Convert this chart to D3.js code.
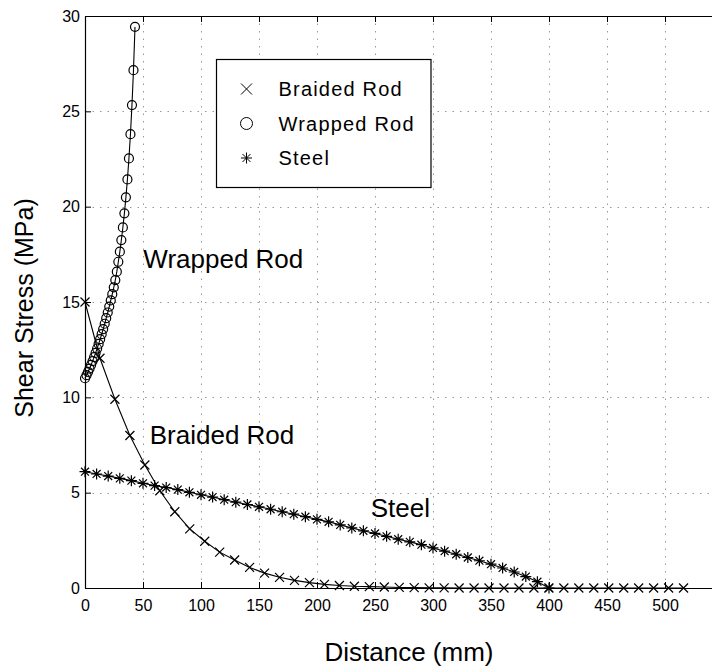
<!DOCTYPE html>
<html>
<head>
<meta charset="utf-8">
<script src="https://cdn.jsdelivr.net/npm/d3@7"></script>
<style>
    body { margin: 0; background: #fff; }
    svg { display: block; font-family: "Liberation Sans", Arial, Helvetica, sans-serif; }
</style>
</head>
<body>
<script>

// values
var braidedX = [0, 12.9, 25.8, 38.7, 51.6, 64.5, 77.4, 90.3, 103.2, 116.1, 129, 141.9, 154.8, 167.7, 180.6,
    193.5, 206.4, 219.3, 232.2, 245.1, 258, 270.9, 283.8, 296.7, 309.6, 322.5, 335.4, 348.3, 361.2, 374.1,
    387, 399.9, 412.8, 425.7, 438.6, 451.5, 464.4, 477.3, 490.2, 503.1, 516];
var braidedY = [15.0, 12.05, 9.9, 8.0, 6.45, 5.1, 4.0, 3.1, 2.45, 1.88, 1.47, 1.08, 0.78, 0.56, 0.4,
    0.28, 0.19, 0.13, 0.09, 0.07, 0.05, 0.03, 0.02, 0.01, 0.01, 0, 0, 0, 0, 0,
    0, 0, 0, 0, 0, 0, 0, 0, 0, 0, 0];

var wrappedX = [0, 1.31, 2.61, 3.92, 5.22, 6.53, 7.84, 9.14, 10.45, 11.75, 13.06, 14.37, 15.67, 16.98, 18.28,
    19.59, 20.9, 22.2, 23.51, 24.81, 26.12, 27.43, 28.73, 30.04, 31.34, 32.65, 33.96, 35.26, 36.57, 37.87,
    39.18, 40.49, 41.79, 43.1];
var wrappedY = [11.0, 11.16, 11.33, 11.51, 11.7, 11.9, 12.11, 12.33, 12.56, 12.8, 13.05, 13.31, 13.58, 13.86, 14.15,
    14.45, 14.76, 15.08, 15.41, 15.77, 16.15, 16.59, 17.11, 17.64, 18.25, 18.91, 19.65, 20.49, 21.43, 22.53,
    23.8, 25.33, 27.16, 29.43];

var steelX = [0, 10, 20, 30, 40, 50, 60, 70, 80, 90, 100, 110, 120, 130, 140, 150, 160, 170, 180, 190,
    200, 210, 220, 230, 240, 250, 260, 270, 280, 290, 300, 310, 320, 330, 340, 350, 360, 370, 380, 390, 400];
var steelY = [6.1, 5.98, 5.87, 5.75, 5.63, 5.49, 5.37, 5.27, 5.16, 5.02, 4.89, 4.77, 4.63, 4.5, 4.38, 4.26, 4.13, 4.0, 3.87, 3.74,
    3.6, 3.47, 3.31, 3.15, 3.0, 2.86, 2.71, 2.56, 2.42, 2.27, 2.1, 1.93, 1.77, 1.6, 1.43, 1.25, 1.05, 0.84, 0.6, 0.33, 0];

var xTicks = [0, 50, 100, 150, 200, 250, 300, 350, 400, 450, 500];
var yTicks = [0, 5, 10, 15, 20, 25, 30];
var seriesNames = ["Braided Rod", "Wrapped Rod", "Steel"];

var W = 712, H = 667;
var plotLeft = 85, plotTop = 16, plotBottom = 588, plotRight = 723;

var x = d3.scaleLinear().domain([0, 550]).range([plotLeft, plotRight]);
var y = d3.scaleLinear().domain([0, 30]).range([plotBottom, plotTop]);

var svg = d3.select("body").append("svg")
    .attr("width", W)
    .attr("height", H);

// marker shapes (matlab style, stroked)
var markX = {
    draw: function (c, r) {
        c.moveTo(-r, -r); c.lineTo(r, r);
        c.moveTo(-r, r); c.lineTo(r, -r);
    }
};
var markO = {
    draw: function (c, r) {
        c.moveTo(r, 0);
        c.arc(0, 0, r, 0, 2 * Math.PI);
    }
};
var markStar = {
    draw: function (c, r) {
        var d = r * 0.72;
        c.moveTo(0, -r); c.lineTo(0, r);
        c.moveTo(-r, 0); c.lineTo(r, 0);
        c.moveTo(-d, -d); c.lineTo(d, d);
        c.moveTo(-d, d); c.lineTo(d, -d);
    }
};

// grid
var grid = svg.append("g").attr("class", "grid")
    .attr("stroke", "#999")
    .attr("stroke-width", 1)
    .attr("stroke-dasharray", "1.5,6");

grid.selectAll("line.gx")
    .data(xTicks.filter(function (d) { return d > 0; }))
    .enter().append("line")
        .attr("class", "gx")
        .attr("x1", function (d) { return Math.round(x(d)) + 0.5; })
        .attr("x2", function (d) { return Math.round(x(d)) + 0.5; })
        .attr("y1", plotTop)
        .attr("y2", plotBottom);

grid.selectAll("line.gy")
    .data(yTicks.filter(function (d) { return d > 0 && d < 30; }))
    .enter().append("line")
        .attr("class", "gy")
        .attr("x1", plotLeft)
        .attr("x2", plotRight)
        .attr("y1", function (d) { return Math.round(y(d)) + 0.5; })
        .attr("y2", function (d) { return Math.round(y(d)) + 0.5; });

// axes, ticks pointing inwards
var axisL = svg.append("g")
    .attr("transform", "translate(" + plotLeft + ",0)")
    .call(d3.axisLeft(y).tickValues(yTicks).tickSizeInner(-6).tickSizeOuter(0).tickPadding(5));

var axisB = svg.append("g")
    .attr("transform", "translate(0," + plotBottom + ")")
    .call(d3.axisBottom(x).tickValues(xTicks).tickSizeInner(-6).tickSizeOuter(0).tickPadding(12));

var axisT = svg.append("g")
    .attr("transform", "translate(0," + plotTop + ")")
    .call(d3.axisTop(x).tickValues(xTicks).tickSizeInner(-6).tickSizeOuter(0).tickFormat(""));

[axisL, axisB, axisT].forEach(function (a) {
    a.selectAll("path.domain").attr("stroke", "#000").attr("stroke-width", 1.2);
    a.selectAll(".tick line").attr("stroke", "#000");
    a.selectAll("text")
        .attr("fill", "#000")
        .style("font-size", "16px")
        .style("font-family", "'Liberation Sans', Arial, sans-serif");
});

// series
var series = [
    { name: seriesNames[0], xs: braidedX, ys: braidedY, mark: markX, size: 4.5 },
    { name: seriesNames[1], xs: wrappedX, ys: wrappedY, mark: markO, size: 4.5 },
    { name: seriesNames[2], xs: steelX, ys: steelY, mark: markStar, size: 5.5 }
];

var line = d3.line()
    .x(function (d) { return x(d[0]); })
    .y(function (d) { return y(d[1]); });

series.forEach(function (s) {

    var pts = d3.zip(s.xs, s.ys);

    var g = svg.append("g").attr("class", "series");

    g.append("path")
        .datum(pts)
        .attr("d", line)
        .attr("fill", "none")
        .attr("stroke", "#000")
        .attr("stroke-width", 1.1);

    g.selectAll("path.mark")
        .data(pts)
        .enter().append("path")
            .attr("class", "mark")
            .attr("transform", function (d) { return "translate(" + x(d[0]) + "," + y(d[1]) + ")"; })
            .attr("d", d3.symbol().type(s.mark).size(s.size))
            .attr("fill", "none")
            .attr("stroke", "#000")
            .attr("stroke-width", 1.2);
});

// in-plot labels
var notes = svg.append("g")
    .style("font-size", "26px")
    .attr("fill", "#000");

notes.append("text").attr("x", x(50.3)).attr("y", y(16.77)).text(seriesNames[1]);
notes.append("text").attr("x", x(55.8)).attr("y", y(7.55)).text(seriesNames[0]);
notes.append("text").attr("x", x(246.3)).attr("y", y(3.74)).text(seriesNames[2]);

// legend
var legend = svg.append("g").attr("transform", "translate(216.5,59.5)");

legend.append("rect")
    .attr("width", 214.5)
    .attr("height", 128)
    .attr("fill", "#fff")
    .attr("stroke", "#000")
    .attr("stroke-width", 1.2);

var rows = legend.selectAll("g.row")
    .data(series)
    .enter().append("g")
        .attr("class", "row")
        .attr("transform", function (d, i) { return "translate(0," + (29.5 + i * 34.5) + ")"; });

rows.append("path")
    .attr("transform", "translate(30,0)")
    .attr("d", function (d) { return d3.symbol().type(d.mark).size(d.mark === markO ? 6 : 5.5)(); })
    .attr("fill", "none")
    .attr("stroke", "#000")
    .attr("stroke-width", 1);

rows.append("text")
    .attr("x", 62)
    .attr("dy", "0.36em")
    .style("font-size", "20px")
    .style("letter-spacing", "1.2px")
    .text(function (d) { return d.name; });

// axis titles
svg.append("text")
    .attr("x", 409)
    .attr("y", 661)
    .attr("text-anchor", "middle")
    .style("font-size", "26px")
    .text("Distance (mm)");

svg.append("text")
    .attr("transform", "translate(33,308) rotate(-90)")
    .attr("text-anchor", "middle")
    .style("font-size", "25px")
    .text("Shear Stress (MPa)");

</script>
</body>
</html>
